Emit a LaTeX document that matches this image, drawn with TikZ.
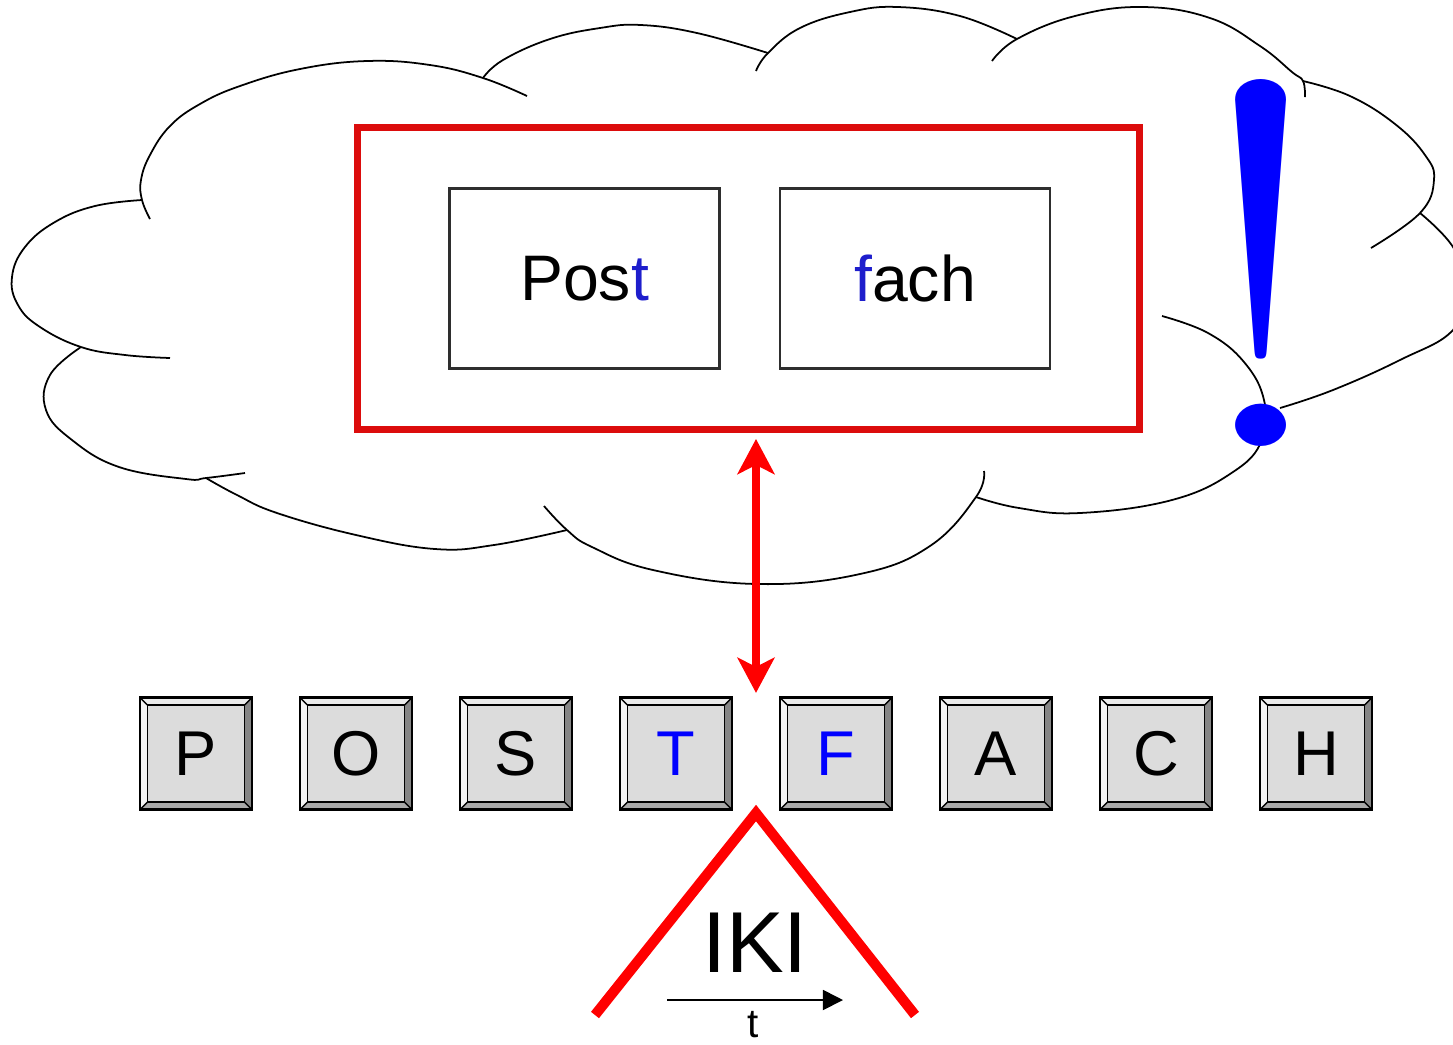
\documentclass[tikz,border=0pt]{standalone}
\usepackage{fontspec}
\usepackage{graphicx}
\setsansfont{Liberation Sans}
\renewcommand{\familydefault}{\sfdefault}
\definecolor{boxRed}{HTML}{DC0C0C}
\definecolor{arrowRed}{HTML}{FF0000}
\definecolor{inkBlue}{HTML}{0000FF}
\definecolor{wordBlue}{HTML}{1E1ECC}
\definecolor{boxGray}{HTML}{2E2E2E}
\definecolor{keyFace}{HTML}{DCDCDC}
\definecolor{keyTop}{HTML}{EBEBEB}
\definecolor{keyLeft}{HTML}{F4F4F4}
\definecolor{keyRight}{HTML}{858585}
\definecolor{keyBottom}{HTML}{A8A8A8}
\usetikzlibrary{positioning,arrows.meta,calc}

\begin{document}
\begin{tikzpicture}[x=0.01cm, y=-0.01cm,
  puff/.style={line width=0.5pt, smooth, tension=0.7},
  wordbox/.style={draw=boxGray, line width=0.8pt, minimum width=2.70cm, minimum height=1.80cm,
    inner sep=0pt, font=\fontsize{18.3}{18.3}\selectfont},
  keycap/.style={draw, line width=0.6pt, fill=keyFace, minimum size=1.12cm, inner sep=0pt,
    font=\fontsize{18}{18}\selectfont,
    path picture={
      \coordinate (kNW) at (path picture bounding box.north west);
      \coordinate (kNE) at (path picture bounding box.north east);
      \coordinate (kSW) at (path picture bounding box.south west);
      \coordinate (kSE) at (path picture bounding box.south east);
      \coordinate (iNW) at ([shift={(0.075cm,-0.075cm)}]kNW);
      \coordinate (iNE) at ([shift={(-0.075cm,-0.075cm)}]kNE);
      \coordinate (iSW) at ([shift={(0.075cm,0.075cm)}]kSW);
      \coordinate (iSE) at ([shift={(-0.075cm,0.075cm)}]kSE);
      \fill[keyTop] (kNW) -- (kNE) -- (iNE) -- (iNW) -- cycle;
      \fill[keyLeft] (kNW) -- (iNW) -- (iSW) -- (kSW) -- cycle;
      \fill[keyRight] (kNE) -- (kSE) -- (iSE) -- (iNE) -- cycle;
      \fill[keyBottom] (kSW) -- (iSW) -- (iSE) -- (kSE) -- cycle;
      \draw[line width=0.4pt] (kNW) -- (iNW) (kNE) -- (iNE) (kSW) -- (iSW) (kSE) -- (iSE);
      \draw[line width=0.45pt] (iNW) rectangle (iSE);
    }},
  linkarrow/.style={arrowRed, line width=2.2pt,
    {Stealth[length=10pt,width=10.5pt,inset=2.6pt]}-{Stealth[length=10pt,width=10.5pt,inset=2.6pt]}},
  caret/.style={arrowRed, line width=2.9pt, line join=miter},
  timearrow/.style={line width=0.5pt, -{Triangle[length=5.7pt,width=5.7pt]}}]
\useasboundingbox (0,0) rectangle (1453,1044);
% cloud
\begin{scope}
\clip (0,0) rectangle (1453,1044);
\draw[puff] plot coordinates {(142,200) (95,206) (55,222) (25,247) (12,277) (18,305) (40,327) (81,347) (125,355) (170,358)};
\draw[puff] plot coordinates {(150,219) (142,200) (141,180) (150,155) (170,126) (200,104) (240,86) (300,69) (367,61) (430,65) (483,78) (527,96)};
\draw[puff] plot coordinates {(483,78) (503,60) (550,39) (600,28) (641,25) (697,33) (768,53)};
\draw[puff] plot coordinates {(756,71) (768,53) (800,28) (850,12) (898,7) (960,16) (1017,39)};
\draw[puff] plot coordinates {(992,61) (1017,39) (1075,16) (1143,7) (1210,18) (1260,46) (1292,72) (1303,81) (1305,97)};
\draw[puff] plot coordinates {(1303,81) (1350,96) (1395,124) (1425,155) (1434,180) (1420,213) (1371,248)};
\draw[puff] plot coordinates {(1420,213) (1453,247) (1467,288) (1453,330) (1400,360) (1333,390) (1280,408)};
\draw[puff] plot coordinates {(1162,316) (1208,333) (1244,362) (1264,400) (1262,440) (1233,472) (1172,500) (1080,513) (1019,508) (976,497)};
\draw[puff] plot coordinates {(984,471) (976,497) (930,546) (860,574) (757,584) (653,570) (592,547) (567,530) (544,506)};
\draw[puff] plot coordinates {(567,530) (494,545) (435,549) (356,535) (277,513) (237,495) (206,478)};
\draw[puff] plot coordinates {(245,473) (206,478) (186,479) (119,467) (72,440) (46,410) (50,375) (81,347)};
\end{scope}
% word parts
\node[draw=boxRed, line width=2pt, minimum width=7.81cm, minimum height=3.01cm] (frame) at (748.5,278.5) {};
\node[wordbox] (post) at (584.5,278.5) {Pos\textcolor{wordBlue}{t}};
\node[wordbox] (fach) at (915,278.5) {\textcolor{wordBlue}{f}ach};
\node[anchor=base, inner sep=0pt, text=inkBlue, font=\rmfamily\fontsize{147}{147}\selectfont] (bang) at (1261,446) {\scalebox{1.2}[1]{!}};
% keys
\foreach \ch/\col [count=\i] in {P/black,O/black,S/black,T/inkBlue,F/inkBlue,A/black,C/black,H/black}
  \node[keycap, text=\col] (k\i) at ({196+160*(\i-1)},753.5) {\ch};
\coordinate (gap) at ($(k4.north)!0.5!(k5.north)$);
\coordinate (gapTop) at (gap |- frame.south);
\draw[linkarrow] ([yshift=-1.8pt]gapTop) -- ([yshift=1pt]gap);
% interval
\coordinate (apex) at (756,813);
\coordinate (caretL) at (595,1015);
\coordinate (caretR) at (915,1015);
\draw[caret] (caretL) -- (apex) -- (caretR);
\node[anchor=base, inner sep=0pt, font=\fontsize{24.6}{24.6}\selectfont] (iki) at (755,972) {IKI};
\coordinate (tStart) at (667,1000);
\coordinate (tEnd) at (843,1000);
\draw[timearrow] (tStart) -- (tEnd);
\node[anchor=base, inner sep=0pt, font=\fontsize{11.5}{11.5}\selectfont] (tlabel) at (753,1037) {t};
\end{tikzpicture}
\end{document}
